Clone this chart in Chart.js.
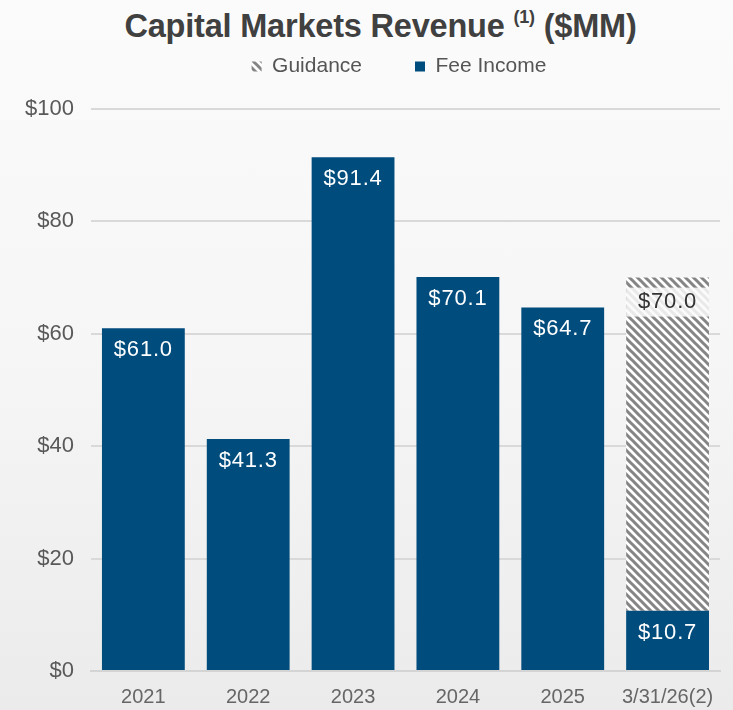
<!DOCTYPE html>
<html>
<head>
<meta charset="utf-8">
<script src="https://cdn.jsdelivr.net/npm/chart.js@4"></script>
<style>
  html, body { margin: 0; padding: 0; }
  body {
    width: 733px; height: 710px; overflow: hidden; position: relative;
    background: linear-gradient(180deg, #fbfbfb 0%, #f6f6f6 50%, #ebebeb 100%);
    font-family: "Liberation Sans", Arial, sans-serif;
  }
  .title {
    position: absolute; top: 7px; left: 14px; width: 733px; text-align: center;
    font-size: 32.5px; font-weight: bold; color: #404040; letter-spacing: -0.2px;
  }
  .title sup { font-size: 18px; vertical-align: 14px; }
  #wrap { position: absolute; left: 0; top: 0; width: 733px; height: 710px; }
</style>
</head>
<body>
<div class="title">Capital Markets Revenue <sup>(1)</sup> ($MM)</div>
<div id="wrap"><canvas id="revChart"></canvas></div>
<script>
const categories = ["2021", "2022", "2023", "2024", "2025", "3/31/26(2)"];
const feeIncome = [61.0, 41.3, 91.4, 70.1, 64.7, 10.7];
const guidance = [null, null, null, null, null, 59.3];
const guidanceTotal = [null, null, null, null, null, 70.0];
const yTicks = [0, 20, 40, 60, 80, 100];

const navy = "#004c7d";
const font = "'Liberation Sans', Arial, sans-serif";

// diagonal hatch for the guidance bar
function makeHatch() {
    const c = document.createElement("canvas");
    c.width = 8; c.height = 8;
    const g = c.getContext("2d");
    g.fillStyle = "#ffffff";
    g.fillRect(0, 0, 8, 8);
    g.strokeStyle = "#858585";
    g.lineWidth = 3;
    g.beginPath();
    g.moveTo(-2, -2); g.lineTo(10, 10);
    g.moveTo(-2, 6); g.lineTo(2, 10);
    g.moveTo(6, -2); g.lineTo(10, 2);
    g.stroke();
    return g.createPattern(c, "repeat");
}
const hatch = makeHatch();

const fmt = v => "$" + v.toFixed(1);

// value labels inside the bars
const barLabels = {
    id: "barLabels",
    afterDatasetsDraw(chart) {
        const ctx = chart.ctx;
        ctx.save();
        ctx.font = "22px " + font;
        ctx.letterSpacing = "0.8px";
        ctx.textAlign = "center";
        ctx.textBaseline = "middle";
        chart.getDatasetMeta(0).data.forEach((bar, i) => {
            ctx.fillStyle = "#ffffff";
            ctx.fillText(fmt(feeIncome[i]), bar.x, bar.y + 22);
        });
        chart.getDatasetMeta(1).data.forEach((bar, i) => {
            if (guidanceTotal[i] == null) return;
            const w = bar.width;
            ctx.fillStyle = "rgba(250,250,250,0.85)";
            ctx.fillRect(bar.x - w / 2, bar.y + 10, w, 29);
            ctx.fillStyle = "#333333";
            ctx.fillText(fmt(guidanceTotal[i]), bar.x, bar.y + 24);
        });
        ctx.restore();
    }
};

// keep the legend up under the title and a bit right of centre
const legendSpot = {
    id: "legendSpot",
    afterInit(chart) {
        const lg = chart.legend;
        const fit = lg.fit;
        lg.fit = function () {
            fit.call(this);
            this.height = 109;
        };
    },
    afterLayout(chart) {
        chart.legend.left += 35;
        chart.legend.right += 35;
        chart.legend.top += 3;
    }
};

new Chart(document.getElementById("revChart"), {
    type: "bar",
    data: {
        labels: categories,
        datasets: [
            {
                label: "Fee Income",
                data: feeIncome,
                backgroundColor: navy,
                stack: "s",
                barPercentage: 0.79,
                categoryPercentage: 1.0
            },
            {
                label: "Guidance",
                data: guidance,
                backgroundColor: hatch,
                stack: "s",
                barPercentage: 0.79,
                categoryPercentage: 1.0
            }
        ]
    },
    options: {
        responsive: true,
        maintainAspectRatio: false,
        animation: false,
        layout: { padding: { top: 0, right: 13, left: 8, bottom: -13 } },
        plugins: {
            legend: {
                reverse: true,
                labels: {
                    boxWidth: 10,
                    boxHeight: 10,
                    padding: 53,
                    color: "#555555",
                    font: { size: 21, family: font }
                }
            },
            tooltip: { enabled: false }
        },
        scales: {
            x: {
                stacked: true,
                grid: { display: false, drawTicks: false },
                border: { color: "#d4d4d4", width: 2 },
                ticks: {
                    color: "#666666",
                    padding: 14,
                    font: { size: 20, family: font }
                }
            },
            y: {
                stacked: true,
                min: 0,
                max: 100,
                afterBuildTicks: axis => { axis.ticks = yTicks.map(v => ({ value: v })); },
                grid: { color: "#d9d9d9", lineWidth: 2, drawTicks: false },
                border: { display: false },
                ticks: {
                    color: "#595959",
                    padding: 17,
                    font: { size: 22, family: font },
                    callback: v => "$" + v
                }
            }
        }
    },
    plugins: [barLabels, legendSpot]
});
</script>
</body>
</html>
